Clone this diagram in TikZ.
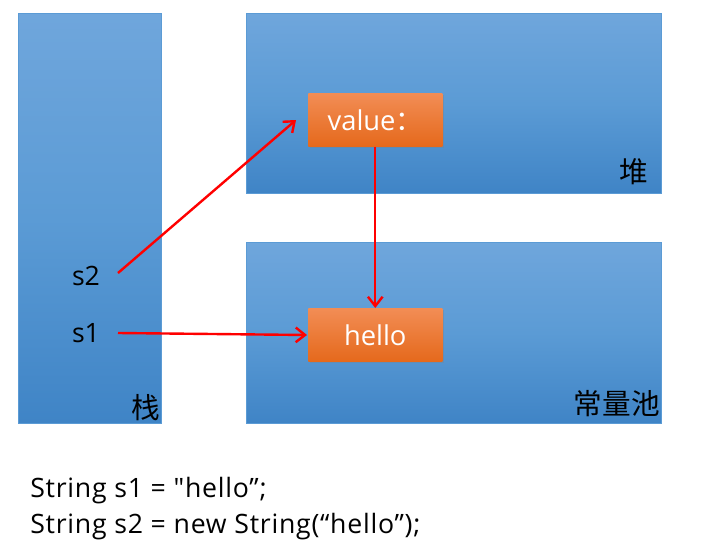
\documentclass[tikz,border=0pt]{standalone}
\usepackage{fontspec}
\setmainfont{Open Sans}[Ligatures=TeXOff]
\newfontfamily\cjk{Noto Sans CJK SC}
\usetikzlibrary{arrows.meta,shadows}
\definecolor{bluetop}{HTML}{6FA6DC}
\definecolor{bluemid}{HTML}{5B9BD5}
\definecolor{bluebot}{HTML}{3F84C6}
\definecolor{bluedraw}{HTML}{5B9BD5}
\definecolor{orgtop}{HTML}{F28D55}
\definecolor{orgbot}{HTML}{E5691C}
\definecolor{arrred}{HTML}{FF0000}
\tikzset{
  mem/.style={draw=bluedraw, line width=0.6pt, top color=bluetop, bottom color=bluebot, middle color=bluemid, inner sep=0pt},
  obj/.style={draw=none, top color=orgtop, bottom color=orgbot, inner sep=0pt,
    minimum width=100.5pt, minimum height=39.75pt, text=white, font=\fontsize{20.5}{24}\selectfont,
    drop shadow={shadow xshift=1.5pt, shadow yshift=-1.5pt, opacity=0.35}},
  lbl/.style={inner sep=0pt, text=black, font=\fontsize{20}{24}\selectfont},
  codeln/.style={lbl, anchor=west, font=\fontsize{20}{24}\selectfont\addfontfeature{LetterSpace=2.8}},
  zh/.style={inner sep=0pt, text=black, font=\cjk\fontsize{21.5}{24}\selectfont},
  ref/.style={draw=arrred, line width=1.8pt, -{Straight Barb[length=7pt,width=11pt,line width=1.8pt]}},
}
\begin{document}
\begin{tikzpicture}[x=0.75pt,y=-0.75pt]
\useasboundingbox (0,0) rectangle (711,546);
\fill[white] (0,0) rectangle (711,546);
% memory areas
\node[mem, minimum width=107.25pt, minimum height=307.5pt, anchor=north west] (stack) at (18,13) {};
\node[mem, minimum width=311.25pt, minimum height=135pt, anchor=north west] (heap) at (246,13) {};
\node[mem, minimum width=311.25pt, minimum height=135.75pt, anchor=north west] (pool) at (246,242) {};
% area labels
\node[zh, anchor=south east] (stacklbl) at (160,421) {栈};
\node[zh, anchor=south east] (heaplbl) at (648,185) {堆};
\node[zh, anchor=south east] (poollbl) at (660,417) {常量池};
% objects
\node[obj, anchor=north west] (value) at (308,93) {value{\cjk ：}\hspace{4pt}};
\node[obj, anchor=north west] (hello) at (308,308) {hello};
% variables
\node[lbl] (s2) at (86,276) {s2};
\node[lbl] (s1) at (86,333) {s1};
\coordinate (s2e) at (118,273);
\coordinate (s1e) at (118,333);
\coordinate (valtip) at (296,120);
\coordinate (hellotip) at (307,335);
% references
\draw[ref] (s2e) -- (valtip);
\draw[ref] (s1e) -- (hellotip);
\draw[ref] (value.south) -- (hello.north);
% code
\node[codeln] (code1) at (30,491) {String s1 = "hello”;};
\node[codeln] (code2) at (30,527) {String s2 = new String(“hello”);};
\end{tikzpicture}
\end{document}
